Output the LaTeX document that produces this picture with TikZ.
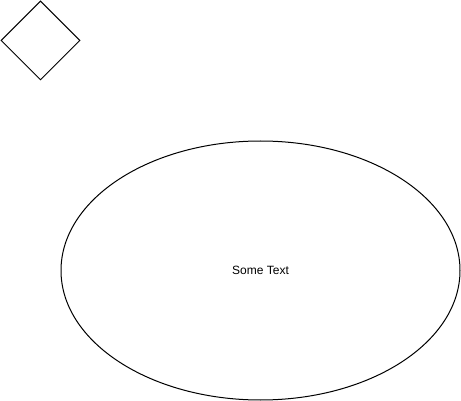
\documentclass[tikz,border=0pt]{standalone}
\usepackage{fontspec}
\setmainfont{Liberation Sans}
\usetikzlibrary{shapes.geometric}
\begin{document}
\begin{tikzpicture}[x=1pt,y=-1pt,
  shapeline/.style={draw=black, line width=1pt}]
\useasboundingbox (0,0) rectangle (461,401);
\node[shapeline, diamond, minimum width=79pt, minimum height=79pt, inner sep=0pt, aspect=1] (dia) at (40.5,40.5) {};
\node[shapeline, ellipse, minimum width=399pt, minimum height=259pt, inner sep=0pt, font=\fontsize{12pt}{14pt}\selectfont] (ell) at (260.5,270.5) {Some Text};
\end{tikzpicture}
\end{document}
